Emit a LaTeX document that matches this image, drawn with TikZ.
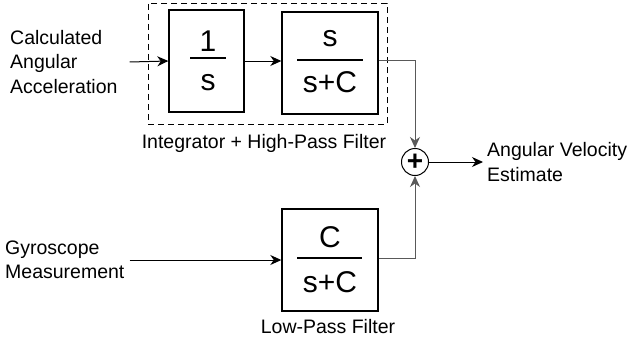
\documentclass[tikz,border=0pt]{standalone}
\usepackage{fontspec}
\setmainfont{Liberation Sans}
\usetikzlibrary{arrows.meta,positioning}

\begin{document}
\begin{tikzpicture}[x=1pt, y=-1pt,
    block/.style={rectangle, draw, line width=1.4pt, minimum width=96pt,
                  minimum height=102pt, inner sep=0pt},
    group/.style={rectangle, draw, dash pattern=on 6pt off 4pt, line width=0.9pt,
                  minimum width=239pt, minimum height=121pt, inner sep=0pt},
    sumnode/.style={circle, draw, line width=1pt, minimum size=27pt, inner sep=0pt,
                    font=\fontsize{28}{28}\selectfont\bfseries},
    lbl/.style={font=\fontsize{19.5}{24.5}\selectfont, align=left, inner sep=0pt},
    frac/.style={font=\fontsize{30}{30}\selectfont, inner sep=0pt, anchor=base},
    bar/.style={line width=1.8pt},
    flow/.style={-{Stealth[length=11pt,width=10pt,inset=3.5pt]}, line width=1pt},
    wire/.style={flow, black!65}
  ]
    \useasboundingbox (0,0) rectangle (631,345);

    % Integrator + high-pass group
    \node[group] (grp) at (267.5,63.5) {};
    \node[block, minimum width=75pt] (int) at (206.5,61) {};
    \node[block] (hpf) at (330,63) {};
    \node[lbl] (grplbl) at (264,143) {Integrator + High-Pass Filter};

    % Low-pass filter
    \node[block] (lpf) at (330,260) {};
    \node[lbl] (lpflbl) at (328,327) {Low-Pass Filter};

    % Transfer functions
    \node[frac] (intn) at (208,52) {1};
    \draw[bar] (190,58) -- (226,58);
    \node[frac] (intd) at (208,90) {s};

    \node[frac] (hpfn) at (330,47) {s};
    \draw[bar] (297,60) -- (363,60);
    \node[frac] (hpfd) at (330,92) {s+C};

    \node[frac] (lpfn) at (330,247) {C};
    \draw[bar] (297,258) -- (362,258);
    \node[frac] (lpfd) at (330,292) {s+C};

    % Summing junction
    \node[sumnode] (sum) at (415,162) {+};

    % Inputs and output
    \node[lbl, anchor=west] (accin) at (10,62) {Calculated\\Angular\\Acceleration};
    \node[lbl, anchor=west] (gyro) at (5,260) {Gyroscope\\Measurement};
    \node[lbl, anchor=west] (est) at (487,162) {Angular Velocity\\Estimate};

    % Connectors
    \draw[flow] ([xshift=12pt]accin.east) -- (int.west);
    \draw[flow] (int.east) -- (int.east -| hpf.west);
    \draw[flow] ([xshift=5pt]gyro.east) -- (lpf.west);
    \draw[wire] ([yshift=3pt]hpf.east) -| (sum.north);
    \draw[wire] ([yshift=2pt]lpf.east) -| (sum.south);
    \draw[flow, shorten >=4pt] (sum.east) -- (est.west);
\end{tikzpicture}
\end{document}
